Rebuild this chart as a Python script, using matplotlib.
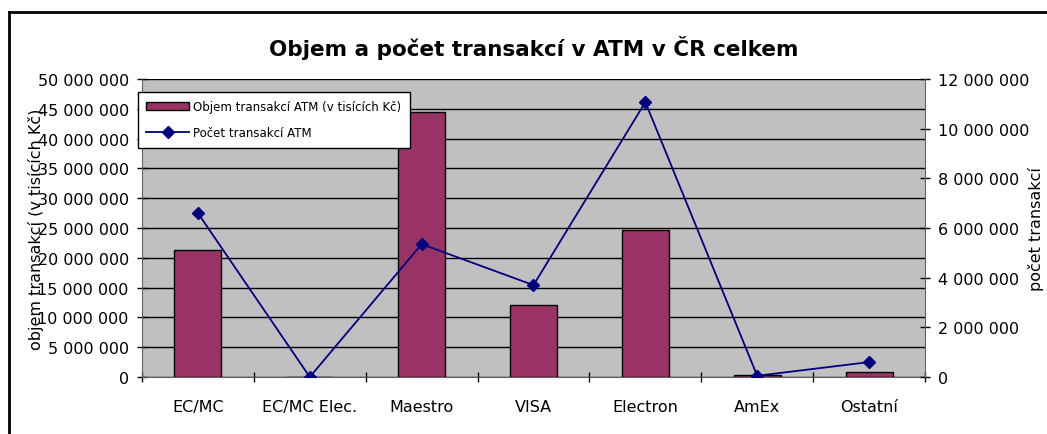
import matplotlib
matplotlib.use("Agg")
import matplotlib.pyplot as plt
from matplotlib.lines import Line2D
from matplotlib.ticker import FuncFormatter, FixedLocator
import numpy as np

categories = ["EC/MC", "EC/MC Elec.", "Maestro", "VISA", "Electron", "AmEx", "Ostatní"]
objem = [21300000, 0, 44500000, 12100000, 24700000, 300000, 800000]
pocet = [6600000, 0, 5350000, 3700000, 11070000, 50000, 600000]
left_ticks = [0, 5000000, 10000000, 15000000, 20000000, 25000000, 30000000, 35000000, 40000000, 45000000, 50000000]
right_ticks = [0, 2000000, 4000000, 6000000, 8000000, 10000000, 12000000]

title = "Objem a počet transakcí v ATM v ČR celkem"
ylabel_left = "objem transakcí (v tisících Kč)"
ylabel_right = "počet transakcí"
legend_bar = "Objem transakcí ATM (v tisících Kč)"
legend_line = "Počet transakcí ATM"

plt.rcParams['font.family'] = ['DejaVu Sans']

W, H = 1047, 435
fig = plt.figure(figsize=(W / 100, H / 100), dpi=100)
fig.patch.set_facecolor("white")

L, R, T, B = 142, 925, 80, 378
ax = fig.add_axes([L / W, 1 - B / H, (R - L) / W, (B - T) / H])
ax.set_facecolor("#C0C0C0")

x = np.arange(len(categories))
fmt = FuncFormatter(lambda v, p: f"{int(round(v)):,}".replace(",", " "))

ax.bar(x, objem, width=0.42, color="#993366", edgecolor="black", linewidth=1.0,
       zorder=3, label=legend_bar)
ax.set_xlim(-0.5, len(categories) - 0.5)
ax.set_ylim(0, 50000000)
ax.yaxis.set_major_locator(FixedLocator(left_ticks))
ax.yaxis.set_major_formatter(fmt)
ax.grid(axis="y", color="black", linewidth=1.0, zorder=1)
ax.set_axisbelow(True)

ax.xaxis.set_major_locator(FixedLocator(np.arange(len(categories) + 1) - 0.5))
ax.xaxis.set_minor_locator(FixedLocator(x))
ax.set_xticklabels([], minor=False)
ax.set_xticklabels(categories, minor=True, fontsize=11.5)
ax.tick_params(axis="x", which="major", direction="inout", length=7, width=1)
ax.tick_params(axis="x", which="minor", length=0, pad=16)
ax.tick_params(axis="y", direction="inout", length=7, width=1, labelsize=11.5, pad=6)

for s in ["top", "right"]:
    ax.spines[s].set_visible(False)
ax.spines["left"].set_color("#606060")
ax.spines["bottom"].set_color("#606060")

ax2 = ax.twinx()
ax2.plot(x, pocet, color="#000080", linewidth=1.3, marker="D", markersize=6,
         label=legend_line, zorder=4)
ax2.set_ylim(0, 12000000)
ax2.yaxis.set_major_locator(FixedLocator(right_ticks))
ax2.yaxis.set_major_formatter(fmt)
ax2.tick_params(axis="y", direction="inout", length=7, width=1, labelsize=11.5, pad=6)
for s in ["top", "left", "bottom"]:
    ax2.spines[s].set_visible(False)
ax2.spines["right"].set_color("#606060")

ax.set_ylabel(ylabel_left, fontsize=11.5)
ax.yaxis.set_label_coords((44 - L) / (R - L), 0.5)
ax2.set_ylabel(ylabel_right, fontsize=11.5)
ax2.yaxis.set_label_coords((1028 - L) / (R - L), 0.5)

fig.text((L + R) / 2 / W, 1 - 48 / H, title, fontsize=15.5, fontweight="bold",
         ha="center", va="center")

h1, l1 = ax.get_legend_handles_labels()
h2, l2 = ax2.get_legend_handles_labels()
leg = ax2.legend(h1 + h2, l1 + l2, loc="upper left",
                 bbox_to_anchor=((138 - L) / (R - L), (B - 93) / (B - T)),
                 borderaxespad=0, fancybox=False, framealpha=1, edgecolor="black",
                 fontsize=8.5, handlelength=3.6, labelspacing=1.1, handletextpad=0.4,
                 borderpad=0.7)
leg.get_frame().set_linewidth(1.0)

# outer frame (left and top visible)
fig.add_artist(Line2D([8.5 / W, 8.5 / W], [0, 1 - 13 / H], color="black", linewidth=2,
                      transform=fig.transFigure))
fig.add_artist(Line2D([8.5 / W, 1], [1 - 13 / H, 1 - 13 / H], color="black", linewidth=2,
                      transform=fig.transFigure))

fig.savefig("out.png", dpi=100)
